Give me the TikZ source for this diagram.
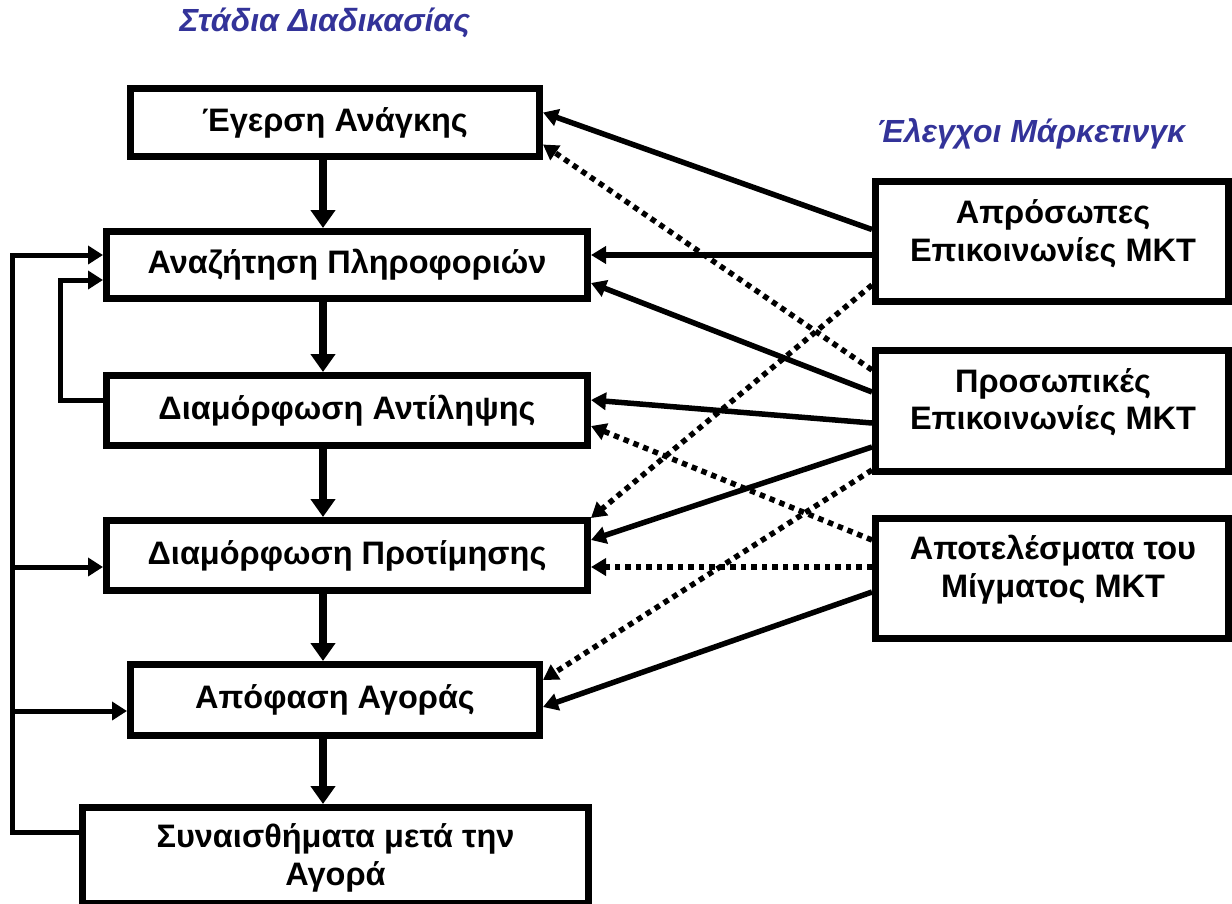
\documentclass[tikz,border=0pt]{standalone}
\usepackage{fontspec}
\setmainfont{Liberation Sans}
\usetikzlibrary{arrows.meta,calc}
\definecolor{titleblue}{HTML}{333399}
\begin{document}
\begin{tikzpicture}[x=1pt,y=-1pt,
  box/.style={draw,line width=7pt,rectangle,align=center,inner sep=0pt,
    font=\fontsize{32.5}{39}\selectfont\bfseries},
  boxtext/.style={align=center,inner sep=0pt,font=\fontsize{32.5}{37.5}\selectfont\bfseries},
  flow/.style={line width=8pt,-{Triangle[length=18pt,width=24pt]}},
  conn/.style={line width=5.5pt,-{Triangle[length=15pt,width=17pt]}},
  dots/.style={conn,dash pattern=on 5.5pt off 5pt},
  fb/.style={line width=5pt,-{Triangle[length=15pt,width=18pt]}},
  title/.style={font=\fontsize{32}{36}\selectfont\bfseries\itshape,text=titleblue}]
\useasboundingbox (0,0) rectangle (1232,903);

% titles
\node[title] (t1) at (325,23) {Στάδια Διαδικασίας};
\node[title] (t2) at (1031,134) {Έλεγχοι Μάρκετινγκ};

% stages
\node[box,minimum width=409pt,minimum height=68pt] (b1) at (335,122.5) {Έγερση Ανάγκης};
\node[box,minimum width=481pt,minimum height=67pt] (b2) at (347,265) {Αναζήτηση Πληροφοριών};
\node[box,minimum width=481pt,minimum height=70pt] (b3) at (347,410.5) {Διαμόρφωση Αντίληψης};
\node[box,minimum width=481pt,minimum height=70pt] (b4) at (347,555.5) {Διαμόρφωση Προτίμησης};
\node[box,minimum width=409pt,minimum height=71pt] (b5) at (335,700) {Απόφαση Αγοράς};
\node[box,minimum width=506pt,minimum height=96pt] (b6) at (335.5,855.5) {};
\node[boxtext] (b6t) at (335.5,858) {Συναισθήματα μετά την\\Αγορά};

% controls
\node[box,minimum width=353pt,minimum height=120pt] (rA) at (1052,241.5) {};
\node[box,minimum width=353pt,minimum height=121pt] (rB) at (1052,411) {};
\node[box,minimum width=353pt,minimum height=120pt] (rC) at (1052,578.5) {};
\node[boxtext] (rAt) at ($(rA)+(1,-8)$) {Απρόσωπες\\Επικοινωνίες ΜΚΤ};
\node[boxtext] (rBt) at ($(rB)+(1,-9)$) {Προσωπικές\\Επικοινωνίες ΜΚΤ};
\node[boxtext] (rCt) at ($(rC)+(1,-9)$) {Αποτελέσματα του\\Μίγματος ΜΚΤ};

% vertical flow
\coordinate (vx) at (323,0);
\draw[flow] (b1.south -| vx) -- (b2.north -| vx);
\draw[flow] (b2.south -| vx) -- (b3.north -| vx);
\draw[flow] (b3.south -| vx) -- (b4.north -| vx);
\draw[flow] (b4.south -| vx) -- (b5.north -| vx);
\draw[flow] (b5.south -| vx) -- (b6.north -| vx);

% feedback loops
\coordinate (ox) at (12,0);
\coordinate (ix) at (60,0);
\coordinate (y1) at (0,255);
\coordinate (y2) at (0,280);
\coordinate (y3) at (0,400);
\coordinate (y4) at (0,567);
\coordinate (y5) at (0,711);
\coordinate (y6) at (0,832);
\draw[fb] (b6.west |- y6) -- (ox |- y6) -- (ox |- y1) -- (b2.west |- y1);
\draw[fb] (ox |- y4) -- (b4.west |- y4);
\draw[fb] (ox |- y5) -- (b5.west |- y5);
\draw[fb] (b3.west |- y3) -- (ix |- y3) -- (ix |- y2) -- (b2.west |- y2);

% marketing controls connectors
\draw[conn] ($(rA.west)+(0,-12)$) -- ($(b1.east)+(0,-10)$);
\draw[conn] ($(rA.west)+(0,13.5)$) -- (b2.east |- {(0,255)});
\draw[dots] ($(rA.west)+(0,43.5)$) -- ($(b4.north east)+(0,1)$);
\draw[dots] ($(rB.west)+(0,-41)$) -- ($(b1.east)+(0,22)$);
\draw[conn] ($(rB.west)+(0,-19)$) -- (b2.east |- {(0,283)});
\draw[conn] ($(rB.west)+(0,12)$) -- (b3.east |- {(0,400)});
\draw[conn] ($(rB.west)+(0,36)$) -- (b4.east |- {(0,540)});
\draw[dots] ($(rB.west)+(0,59)$) -- (b5.east |- {(0,680)});
\draw[dots] ($(rC.west)+(0,-38.5)$) -- (b3.east |- {(0,426)});
\draw[dots] ($(rC.west)+(0,-11.5)$) -- (b4.east |- {(0,567)});
\draw[conn] ($(rC.west)+(0,13.5)$) -- (b5.east |- {(0,707)});
\end{tikzpicture}
\end{document}
